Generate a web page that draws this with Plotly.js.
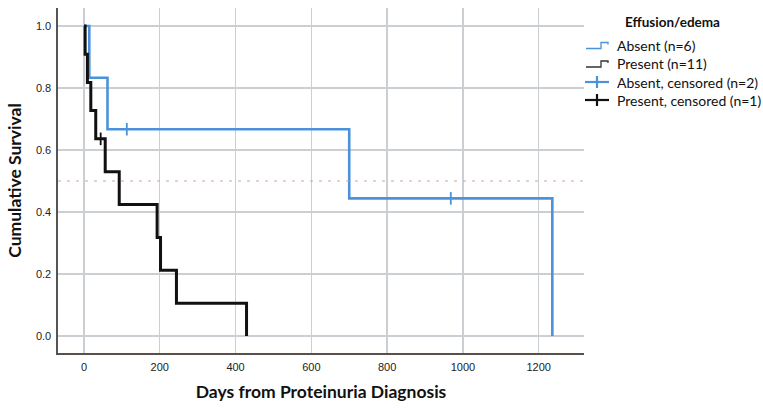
<!DOCTYPE html>
<html>
<head>
<meta charset="utf-8">
<script src="https://cdn.plot.ly/plotly-3.0.1.min.js"></script>
<style>html,body{margin:0;padding:0;background:#fff;}#chart{width:763px;height:408px;}</style>
</head>
<body>
<div id="chart"></div>
<script>
// ---- data ----
const seriesNames = ["Absent (n=6)", "Present (n=11)", "Absent, censored (n=2)", "Present, censored (n=1)"];
const legendTitle = "Effusion/edema";
const absentDays = [0, 14, 62, 700, 1236];
const absentSurv = [1.0, 0.833, 0.667, 0.444, 0.0];
const presentDays = [0, 3, 9, 18, 31, 56, 93, 193, 202, 244, 429];
const presentSurv = [1.0, 0.909, 0.818, 0.727, 0.636, 0.530, 0.424, 0.318, 0.212, 0.106, 0.0];
const absentCensDays = [113, 968];
const absentCensSurv = [0.667, 0.444];
const presentCensDays = [44];
const presentCensSurv = [0.636];
const xTicks = [0, 200, 400, 600, 800, 1000, 1200];
const yTicks = [0.0, 0.2, 0.4, 0.6, 0.8, 1.0];
const yTickText = ["0.0", "0.2", "0.4", "0.6", "0.8", "1.0"];
const refLevel = 0.5;

// ---- style ----
const BLUE = '#4b92da';
const BLACK = '#111111';
const W = 763, H = 408;
const M = {l: 58, r: 179, t: 8, b: 55};
const pw = W - M.l - M.r, ph = H - M.t - M.b;
const px = x => (x - M.l) / pw;
const py = y => (H - M.b - y) / ph;

const traces = [
  {x: absentDays, y: absentSurv, mode: 'lines', line: {shape: 'hv', color: BLUE, width: 2.6}, name: seriesNames[0], showlegend: false},
  {x: presentDays, y: presentSurv, mode: 'lines', line: {shape: 'hv', color: BLACK, width: 3}, name: seriesNames[1], showlegend: false},
  {x: absentCensDays, y: absentCensSurv, mode: 'markers', marker: {symbol: 'line-ns-open', size: 9, color: BLUE, line: {color: BLUE, width: 1.8}}, name: seriesNames[2], showlegend: false},
  {x: presentCensDays, y: presentCensSurv, mode: 'markers', marker: {symbol: 'line-ns-open', size: 9, color: BLACK, line: {color: BLACK, width: 1.8}}, name: seriesNames[3], showlegend: false}
];

// legend drawn by hand (step icons and plus icons)
const legX0 = 586, legTextX = 615;
const legY = [45.5, 64, 82, 100];
const shapes = [
  {type: 'line', xref: 'paper', yref: 'y', x0: 0, x1: 1, y0: refLevel, y1: refLevel, line: {color: '#d4a39b', width: 1.2, dash: '3px,6px'}, layer: 'above'}
];
function stepIcon(yc, color) {
  const a = px(legX0), b = px(legX0 + 15), c = px(legX0 + 22);
  const lo = py(yc + 3), hi = py(yc - 3), mid = py(yc - 1);
  return {type: 'path', xref: 'paper', yref: 'paper',
    path: `M${a},${lo} L${b},${lo} L${b},${hi} L${c},${hi} L${c},${mid}`,
    line: {color: color, width: 1.3}};
}
function plusIcon(yc, color) {
  return [
    {type: 'line', xref: 'paper', yref: 'paper', x0: px(legX0 - 1), x1: px(legX0 + 23), y0: py(yc), y1: py(yc), line: {color: color, width: 2.2}},
    {type: 'line', xref: 'paper', yref: 'paper', x0: px(legX0 + 11), x1: px(legX0 + 11), y0: py(yc - 6), y1: py(yc + 6), line: {color: color, width: 2.2}}
  ];
}
shapes.push(stepIcon(legY[0], BLUE));
shapes.push(stepIcon(legY[1], '#333333'));
shapes.push(...plusIcon(legY[2], BLUE));
shapes.push(...plusIcon(legY[3], BLACK));

const annotations = [
  {xref: 'paper', yref: 'paper', x: px(672), y: py(22), text: '<b>' + legendTitle + '</b>', showarrow: false, xanchor: 'center', yanchor: 'middle', font: {family: 'Lato, Open Sans, sans-serif', size: 13.5, color: '#111'}}
];
seriesNames.forEach((n, i) => annotations.push({
  xref: 'paper', yref: 'paper', x: px(legTextX), y: py(legY[i]), text: n, showarrow: false,
  xanchor: 'left', yanchor: 'middle', font: {family: 'Lato, Open Sans, sans-serif', size: 14, color: '#111'}
}));

const layout = {
  width: W, height: H,
  margin: M,
  paper_bgcolor: '#ffffff', plot_bgcolor: '#ffffff',
  showlegend: false,
  xaxis: {
    range: [-68.6, 1319.6], tickvals: xTicks, ticktext: xTicks.map(String),
    showgrid: true, gridcolor: '#cbcfd4', gridwidth: 1.3, zeroline: false,
    showline: true, linecolor: '#5b4f4a', linewidth: 1.6,
    ticks: 'outside', ticklen: 3, tickcolor: 'rgba(0,0,0,0)',
    tickfont: {family: 'Liberation Sans, Arial, sans-serif', size: 11, color: '#222'},
    title: {text: '<b>Days from Proteinuria Diagnosis</b>', standoff: 14, font: {family: 'Lato, Open Sans, sans-serif', size: 17.5, color: '#111'}}
  },
  yaxis: {
    range: [-0.0548, 1.058], tickvals: yTicks, ticktext: yTickText,
    showgrid: true, gridcolor: '#cbcfd4', gridwidth: 1.3, zeroline: false,
    showline: true, linecolor: '#555555', linewidth: 1.6,
    ticks: 'outside', ticklen: 3, tickcolor: 'rgba(0,0,0,0)',
    tickfont: {family: 'Liberation Sans, Arial, sans-serif', size: 11, color: '#222'},
    title: {text: '<b>Cumulative Survival</b>', standoff: 10, font: {family: 'Lato, Open Sans, sans-serif', size: 17.5, color: '#111'}}
  },
  shapes: shapes,
  annotations: annotations
};

Plotly.newPlot('chart', traces, layout, {displayModeBar: false, staticPlot: true});
</script>
</body>
</html>
